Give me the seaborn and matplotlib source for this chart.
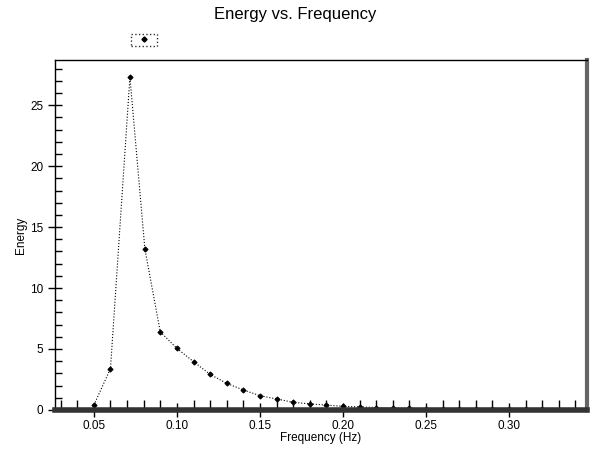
import numpy as np
import pandas as pd
import matplotlib
matplotlib.use("Agg")
import matplotlib.pyplot as plt
from matplotlib.lines import Line2D
from matplotlib.ticker import MultipleLocator, FormatStrFormatter
import seaborn as sns

# frequency (Hz) and energy
freq = [0.05, 0.06, 0.0717, 0.0807, 0.09, 0.10, 0.11, 0.12, 0.13, 0.14,
        0.15, 0.16, 0.17, 0.18, 0.19, 0.20, 0.21, 0.22, 0.23, 0.24,
        0.25, 0.26, 0.27, 0.28, 0.29, 0.30, 0.31, 0.32, 0.33, 0.34]
energy = [0.4, 3.4, 27.3, 13.2, 6.4, 5.05, 3.96, 2.92, 2.18, 1.64,
          1.17, 0.9, 0.63, 0.5, 0.4, 0.3, 0.25, 0.2, 0.16, 0.13,
          0.11, 0.09, 0.08, 0.07, 0.06, 0.05, 0.04, 0.04, 0.03, 0.03]

df = pd.DataFrame({"Frequency (Hz)": freq, "Energy": energy})

sns.set_style("ticks")
plt.rcParams["font.family"] = ["Liberation Sans", "DejaVu Sans"]
plt.rcParams["text.color"] = "black"
plt.rcParams["axes.labelcolor"] = "black"

fig = plt.figure(figsize=(5.9, 4.55), dpi=100)
ax = fig.add_axes([0.093, 0.099, 0.902, 0.769])

sns.lineplot(data=df, x="Frequency (Hz)", y="Energy", ax=ax, color="black",
             linestyle=":", linewidth=0.8, marker="D", markersize=2.6,
             markeredgecolor="black", sort=False)

ax.set_xlim(0.0265, 0.347)
ax.set_ylim(0, 28.7)
ax.xaxis.set_major_locator(MultipleLocator(0.05))
ax.xaxis.set_minor_locator(MultipleLocator(0.01))
ax.yaxis.set_major_locator(MultipleLocator(5))
ax.yaxis.set_minor_locator(MultipleLocator(1))
ax.xaxis.set_major_formatter(FormatStrFormatter("%.2f"))
ax.tick_params(which="major", direction="inout", length=10, width=1,
               labelsize=8.5, colors="black")
ax.tick_params(which="minor", direction="in", length=5, width=1, colors="black")
ax.tick_params(axis="x", which="minor", length=7)
ax.tick_params(axis="x", which="major", pad=2)

for s in ["top", "left"]:
    ax.spines[s].set_color("black")
    ax.spines[s].set_linewidth(1)
ax.spines["bottom"].set_color("#333333")
ax.spines["bottom"].set_linewidth(4)
ax.spines["right"].set_color("#666666")
ax.spines["right"].set_linewidth(3)

ax.set_xlabel("Frequency (Hz)", fontsize=8.5, labelpad=0)
ax.set_ylabel("Energy", fontsize=8.5, labelpad=2)
fig.suptitle("Energy vs. Frequency", fontsize=12, y=0.985, color="black")

handle = Line2D([], [], color="black", marker="D", markersize=2.6, linestyle="none")
leg = ax.legend(handles=[handle], labels=[""], loc="center",
                bbox_to_anchor=(0.167, 1.057), frameon=True, fancybox=False,
                handlelength=2.6, handletextpad=0.0, borderpad=0.25,
                fontsize=6)
leg.get_frame().set_linestyle(":")
leg.get_frame().set_edgecolor("black")
leg.get_frame().set_linewidth(1)

fig.savefig("out.png", dpi=100)
